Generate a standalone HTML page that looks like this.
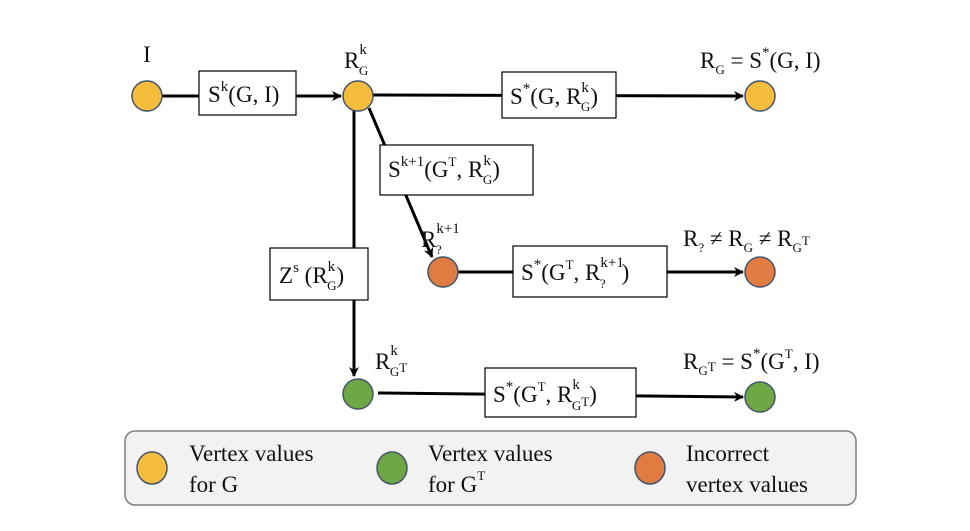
<!DOCTYPE html>
<html><head><meta charset="utf-8"><style>
html,body{margin:0;padding:0;background:#fff;}
svg text{font-family:"Liberation Serif",serif;fill:#111;}
.p{font-size:15px;}
.b{font-size:13px;}
</style></head><body>
<svg width="970" height="526" viewBox="0 0 970 526" xmlns="http://www.w3.org/2000/svg">
<defs>
<marker id="a" markerWidth="10" markerHeight="10" refX="9" refY="5" orient="auto" markerUnits="userSpaceOnUse">
<path d="M0,0 L10,5 L0,10 L3,5 z" fill="#000"/></marker>
</defs>
<g stroke="#000" stroke-width="3" fill="none">
<line x1="162" y1="96" x2="341" y2="96" marker-end="url(#a)"/>
<line x1="373" y1="95" x2="743" y2="96" marker-end="url(#a)"/>
<line x1="354" y1="110" x2="354" y2="376" marker-end="url(#a)"/>
<line x1="369" y1="108" x2="432" y2="257" marker-end="url(#a)"/>
<line x1="458" y1="272" x2="743" y2="272" marker-end="url(#a)"/>
<line x1="378" y1="393" x2="743" y2="397" marker-end="url(#a)"/>
</g>
<g stroke="#44546a" stroke-width="1.5">
<circle cx="147" cy="96" r="15" fill="#f6bd3c"/>
<circle cx="358" cy="96" r="15" fill="#f6bd3c"/>
<circle cx="760" cy="96" r="15" fill="#f6bd3c"/>
<circle cx="443" cy="272" r="15" fill="#e07c42"/>
<circle cx="760" cy="272" r="15" fill="#e07c42"/>
<circle cx="358" cy="394" r="15" fill="#70a745"/>
<circle cx="760" cy="397" r="15" fill="#70a745"/>
</g>
<g fill="#fff" stroke="#000" stroke-width="1.2">
<rect x="199" y="71" width="97" height="44"/>
<rect x="502" y="72" width="114" height="46"/>
<rect x="380" y="145" width="153" height="50"/>
<rect x="270" y="248" width="98" height="52"/>
<rect x="513" y="246" width="154" height="51"/>
<rect x="485" y="368" width="151" height="49"/>
</g>
<g font-size="23">
<text x="147" y="62" text-anchor="middle">I</text>
<text x="344" y="68">R<tspan class="p" baseline-shift="14">k</tspan><tspan class="b" dx="-8" baseline-shift="-7">G</tspan></text>
<text x="208" y="102">S<tspan class="p" baseline-shift="11">k</tspan>(G, I)</text>
<text x="510" y="104">S<tspan class="p" baseline-shift="11">*</tspan>(G, R<tspan class="p" baseline-shift="12">k</tspan><tspan class="b" dx="-8" baseline-shift="-7">G</tspan>)</text>
<text x="700" y="68">R<tspan class="b" baseline-shift="-6">G</tspan> = S<tspan class="p" baseline-shift="11">*</tspan>(G, I)</text>
<text x="388" y="177">S<tspan class="p" baseline-shift="11">k+1</tspan>(G<tspan class="b" baseline-shift="11">T</tspan>, R<tspan class="p" baseline-shift="12">k</tspan><tspan class="b" dx="-8" baseline-shift="-7">G</tspan>)</text>
<text x="421" y="247">R<tspan class="p" baseline-shift="14">k+1</tspan><tspan class="b" dx="-24" baseline-shift="-7">?</tspan></text>
<text x="279" y="283">Z<tspan class="p" baseline-shift="11">s</tspan> (R<tspan class="p" baseline-shift="12">k</tspan><tspan class="b" dx="-8" baseline-shift="-7">G</tspan>)</text>
<text x="521" y="280">S<tspan class="p" baseline-shift="11">*</tspan>(G<tspan class="b" baseline-shift="11">T</tspan>, R<tspan class="p" baseline-shift="13">k+1</tspan><tspan class="b" dx="-24" baseline-shift="-8">?</tspan><tspan dx="16">)</tspan></text>
<text x="683" y="246">R<tspan class="b" baseline-shift="-6">?</tspan> ≠ R<tspan class="b" baseline-shift="-6">G</tspan> ≠ R<tspan class="b" baseline-shift="-6">G</tspan><tspan class="b" baseline-shift="1">T</tspan></text>
<text x="375" y="369">R<tspan class="p" baseline-shift="14">k</tspan><tspan class="b" dx="-8" baseline-shift="-7">G</tspan><tspan class="b" baseline-shift="-3">T</tspan></text>
<text x="493" y="402">S<tspan class="p" baseline-shift="11">*</tspan>(G<tspan class="b" baseline-shift="11">T</tspan>, R<tspan class="p" baseline-shift="13">k</tspan><tspan class="b" dx="-8" baseline-shift="-8">G</tspan><tspan class="b" baseline-shift="-4">T</tspan>)</text>
<text x="683" y="369">R<tspan class="b" baseline-shift="-6">G</tspan><tspan class="b" baseline-shift="-2">T</tspan> = S<tspan class="p" baseline-shift="11">*</tspan>(G<tspan class="b" baseline-shift="11">T</tspan>, I)</text>
</g>
<rect x="125" y="431" width="731" height="74" rx="10" fill="#f2f2f2" stroke="#7f7f7f" stroke-width="1.5"/>
<g stroke="#44546a" stroke-width="1.5">
<ellipse cx="152" cy="468" rx="15" ry="16" fill="#f6bd3c"/>
<ellipse cx="392" cy="468" rx="15" ry="16" fill="#70a745"/>
<ellipse cx="650" cy="468" rx="15" ry="16" fill="#e07c42"/>
</g>
<g font-size="23">
<text x="189" y="461">Vertex values</text><text x="189" y="492">for G</text>
<text x="428" y="461">Vertex values</text><text x="428" y="492">for G<tspan class="b" baseline-shift="12">T</tspan></text>
<text x="686" y="461">Incorrect</text><text x="686" y="492">vertex values</text>
</g>
</svg>
</body></html>
